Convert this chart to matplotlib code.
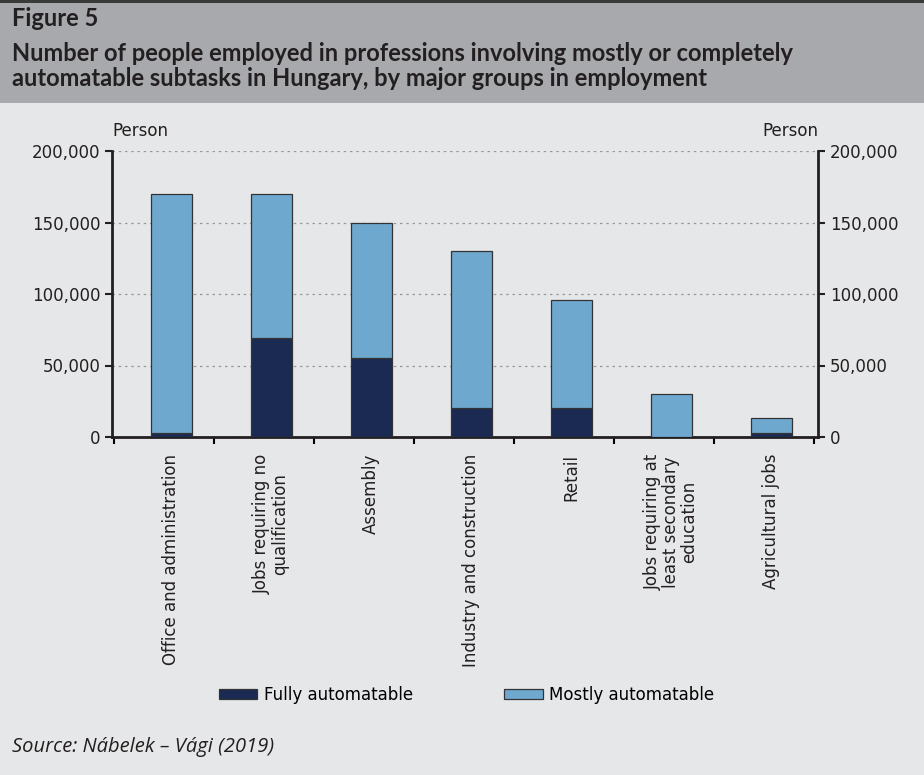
import numpy as np
import matplotlib.pyplot as plt
from matplotlib.patches import Rectangle
from matplotlib.ticker import FuncFormatter

categories = ["Office and administration", "Jobs requiring no\nqualification", "Assembly",
              "Industry and construction", "Retail", "Jobs requiring at\nleast secondary\neducation",
              "Agricultural jobs"]
fully = [3000, 69000, 55000, 20000, 20000, 0, 3000]
mostly = [167000, 101000, 95000, 110000, 76000, 30000, 10000]
yticks = [0, 50000, 100000, 150000, 200000]

dark = "#1a2a52"
light = "#6fa8cf"
bg = "#e6e7e8"
header = "#a7a9ac"

fig = plt.figure(figsize=(9.24, 7.75), dpi=100, facecolor=bg)

# header band
fig.patches.append(Rectangle((0, 1 - 103 / 775), 1, 103 / 775, transform=fig.transFigure,
                             facecolor=header, edgecolor="none", zorder=0))
fig.patches.append(Rectangle((0, 1 - 3 / 775), 1, 3 / 775, transform=fig.transFigure,
                             facecolor="#3a3a3a", edgecolor="none", zorder=1))
fig.text(12 / 924, 1 - 19 / 775, "Figure 5", fontsize=17, fontweight="bold",
         family="Lato", color="#231f20", va="center")
fig.text(12 / 924, 1 - 66 / 775,
         "Number of people employed in professions involving mostly or completely\n"
         "automatable subtasks in Hungary, by major groups in employment",
         fontsize=17, fontweight="bold", family="Lato", color="#231f20", va="center",
         linespacing=1.15)

ax = fig.add_axes([112 / 924, 1 - 437 / 775, 706 / 924, 286 / 775])
ax.set_facecolor(bg)
x = np.arange(len(categories))
ax.bar(x, fully, width=0.41, color=dark, edgecolor="#333333", linewidth=0.9,
       label="Fully automatable", zorder=3)
ax.bar(x, mostly, width=0.41, bottom=fully, color=light, edgecolor="#333333",
       linewidth=0.9, label="Mostly automatable", zorder=3)

ax.set_xlim(-0.59, len(categories) - 0.53)
ax.set_ylim(0, 200000)
ax.set_yticks(yticks)
fmt = FuncFormatter(lambda v, p: f"{int(v):,}")
ax.yaxis.set_major_formatter(fmt)
ax.tick_params(axis="y", which="both", direction="out", length=5, width=1.5,
               labelsize=12, colors="#231f20", right=True, labelright=True)
ax.grid(axis="y", color="#999999", linestyle=(0, (2, 3)), linewidth=0.9, zorder=1)

ax.set_xticks(x)
ax.set_xticklabels(categories, rotation=90, fontsize=12, color="#231f20",
                   ha="center", va="top", linespacing=1.0)
ax.set_xticks(np.arange(len(categories) + 1) - 0.57, minor=True)
ax.tick_params(axis="x", which="major", length=0, pad=12)
ax.tick_params(axis="x", which="minor", length=5, width=1.5, direction="out")

for side in ["left", "right", "bottom"]:
    ax.spines[side].set_linewidth(2)
    ax.spines[side].set_color("#231f20")
ax.spines["top"].set_visible(False)

fig.text(112 / 924, 1 - 131 / 775, "Person", fontsize=12, color="#231f20", va="center")
fig.text(818 / 924, 1 - 131 / 775, "Person", fontsize=12, color="#231f20", va="center",
         ha="right")

fig.legend(loc="center", bbox_to_anchor=(0.505, 1 - 695 / 775), ncol=2, frameon=False,
           handlelength=2.3, handleheight=0.6, columnspacing=5.5, handletextpad=0.4,
           prop={"size": 12})

fig.text(12 / 924, 1 - 747 / 775, "Source: Nábelek – Vági (2019)", fontsize=14.5,
         style="italic", family="Open Sans", color="#231f20", va="center")

fig.savefig("out.png", dpi=100, facecolor=bg)
